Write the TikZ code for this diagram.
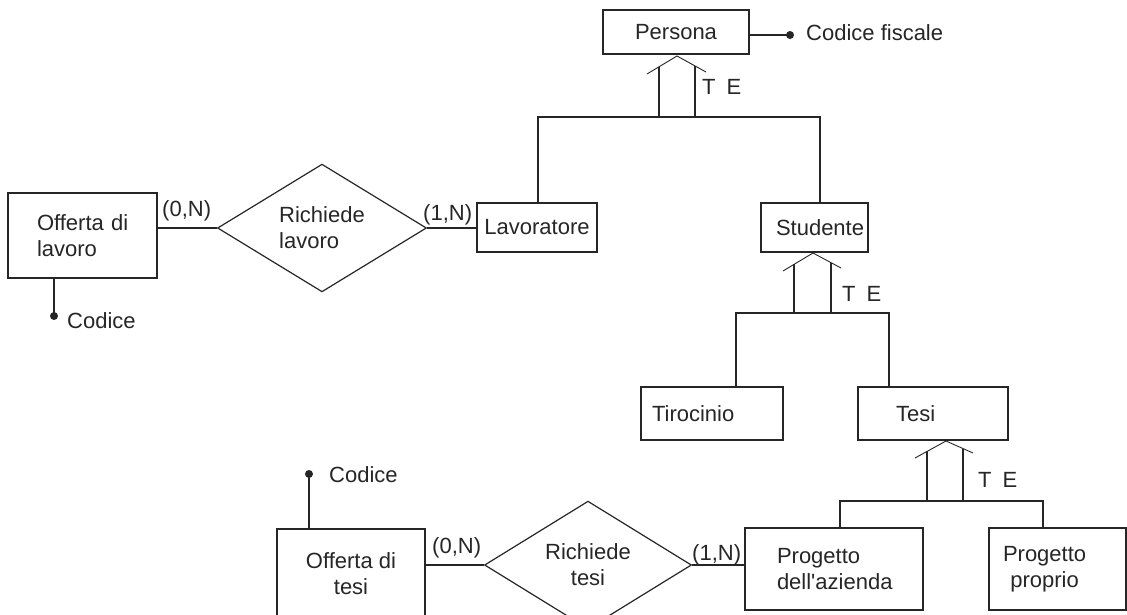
\documentclass[tikz,border=0pt]{standalone}
\usepackage{fontspec}
\setmainfont{Liberation Sans}[Ligatures=TeXOff]
\usetikzlibrary{shapes.geometric}
\definecolor{ink}{RGB}{38,38,38}

\begin{document}
\begin{tikzpicture}[x=1pt,y=-1pt,
  every node/.style={text=ink, font=\fontsize{22}{26}\selectfont},
  line/.style={draw=ink, line width=1.2pt},
  thin/.style={draw=ink, line width=0.9pt},
  ent/.style={line, rectangle, inner ysep=0pt},
  rel/.style={line, diamond, inner sep=0pt},
  lbl/.style={inner sep=0pt, anchor=base west},
  keydot/.style={fill=ink}
]
\path[use as bounding box, fill=white] (0,0) rectangle (1127,614);

% ---------- entities ----------
\node[ent, minimum width=146pt, minimum height=44pt, inner xsep=0pt]
  (per) at (676,32) {Persona};
\node[ent, minimum width=120pt, minimum height=49pt, inner xsep=0pt]
  (lav) at (537,227.5) {Lavoratore};
\node[ent, minimum width=149pt, minimum height=85pt, text width=91pt,
  inner xsep=29pt, align=left]
  (ol) at (82.5,235.5) {Offerta~di\\lavoro};
\node[ent, minimum width=107pt, minimum height=49pt, text width=77pt,
  inner xsep=15pt, align=left]
  (stu) at (814.5,227.5) {Studente};
\node[ent, minimum width=142pt, minimum height=53pt, text width=120pt,
  inner xsep=11pt, align=left]
  (tir) at (712,413.5) {Tirocinio};
\node[ent, minimum width=150pt, minimum height=53pt, text width=74pt,
  inner xsep=38pt, align=left]
  (tes) at (933,413.5) {Tesi};
\node[ent, minimum width=178pt, minimum height=82pt, text width=114pt,
  inner xsep=32pt, align=left]
  (pda) at (834,569) {Progetto\\dell'azienda};
\node[ent, minimum width=137pt, minimum height=82pt, text width=109pt,
  inner xsep=14pt, align=left]
  (pp) at (1057.5,569) {\begin{tabular}{@{}c@{}}Progetto\\proprio\end{tabular}};
\node[ent, minimum width=148pt, minimum height=89pt, inner xsep=0pt, align=center]
  (otb) at (351,573.5) {Offerta di\\tesi};

% ---------- relationships ----------
\node[rel, minimum width=209pt, minimum height=102pt, align=left]
  (rl) at (322,228) {Richiede\\lavoro};
\node[rel, minimum width=207pt, minimum height=102pt, align=center]
  (rt) at (588,565) {Richiede\\tesi};

\draw[line] (ol.east |- rl.west) -- (rl.west);
\draw[line] (rl.east) -- (rl.east -| lav.west);
\draw[line] (otb.east |- rt.west) -- (rt.west);
\draw[line] (rt.east) -- (rt.east -| pda.west);

\node[lbl] (card1) at (162,216) {(0,N)};
\node[lbl] (card2) at (423,220) {(1,N)};
\node[lbl] (card3) at (432,553) {(0,N)};
\node[lbl] (card4) at (692,560) {(1,N)};

% ---------- identifiers ----------
\coordinate (pdot) at (790,35);
\draw[line] (per.east |- pdot) -- (pdot);
\fill[keydot] (pdot) circle[radius=4pt];
\node[lbl] (pkey) at (806,40) {Codice fiscale};

\coordinate (odot) at (54,316);
\draw[line] (odot |- ol.south) -- (odot);
\fill[keydot] (odot) circle[radius=4pt];
\node[lbl] (okey) at (67,328) {Codice};

\coordinate (tdot) at (309,474);
\draw[line] (tdot |- otb.north) -- (tdot);
\fill[keydot] (tdot) circle[radius=4pt];
\node[lbl] (tkey) at (329,482) {Codice};

% ---------- generalisation of Persona ----------
\coordinate (g1) at (677,56);
\draw[thin] (647,74) -- (g1) -- (706,72);
\draw[line] (659,66.8) -- (659,117);
\draw[line] (695,66) -- (695,117);
\coordinate (b1l) at (538,117);
\coordinate (b1r) at (820,117);
\draw[line] (b1l |- lav.north) -- (b1l) -- (b1r) -- (b1r |- stu.north);
\node[lbl] (te1) at (702,94) {T\hspace{11pt}E};

% ---------- generalisation of Studente ----------
\coordinate (g2) at (813,253);
\draw[thin] (783,271) -- (g2) -- (841,268);
\draw[line] (794,264.4) -- (794,313);
\draw[line] (831,262.6) -- (831,313);
\coordinate (b2l) at (736,313);
\coordinate (b2r) at (889,313);
\draw[line] (b2l |- tir.north) -- (b2l) -- (b2r) -- (b2r |- tes.north);
\node[lbl] (te2) at (842,301) {T\hspace{11pt}E};

% ---------- generalisation of Tesi ----------
\coordinate (g3) at (946,441);
\draw[thin] (915,458) -- (g3) -- (973,453);
\draw[line] (927,451.4) -- (927,501);
\draw[line] (963,448.6) -- (963,501);
\coordinate (b3l) at (840,501);
\coordinate (b3r) at (1043,501);
\draw[line] (b3l |- pda.north) -- (b3l) -- (b3r) -- (b3r |- pp.north);
\node[lbl] (te3) at (978,487) {T\hspace{11pt}E};

\end{tikzpicture}
\end{document}
